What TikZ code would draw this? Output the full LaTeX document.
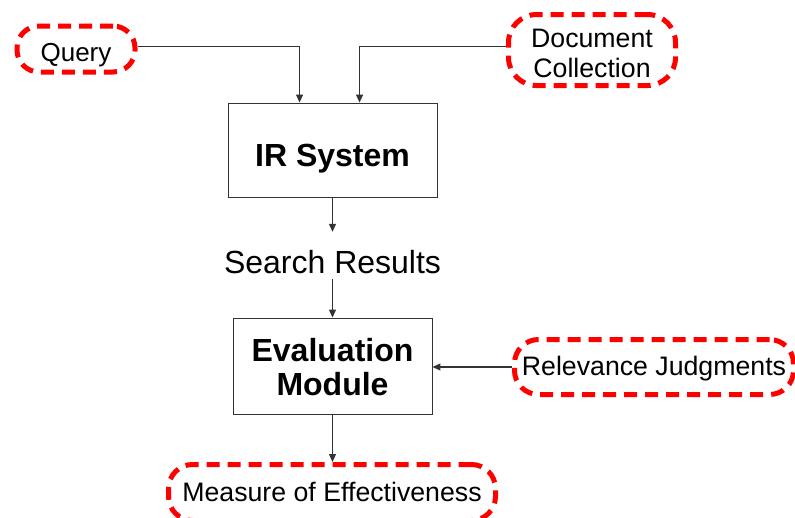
\documentclass[tikz,border=0pt]{standalone}
\usepackage{fontspec}
\setmainfont{Liberation Sans}
\usetikzlibrary{arrows.meta}
\begin{document}
\begin{tikzpicture}[x=1pt,y=1pt,
  ext/.style={draw=red, line width=5pt, dash pattern=on 13pt off 8pt,
    rounded corners=24pt, font=\fontsize{26.7}{30}\selectfont, align=center,
    inner sep=0pt, text depth=0pt},
  proc/.style={draw=black!80, line width=0.9pt, font=\fontsize{32}{33.5}\selectfont\bfseries,
    align=center, inner sep=0pt, text depth=0pt},
  conn/.style={draw=black!80, line width=1.1pt, -{Triangle[length=8pt,width=7pt]}}]
\useasboundingbox (0,0) rectangle (795,-517);

% external inputs and outputs
\node[ext, font=\fontsize{26}{30}\selectfont, rounded corners=22pt,
  minimum width=118pt, minimum height=46pt, text height=24pt] (query) at (76,-49) {Query};
\node[ext, rounded corners=28pt, minimum width=167pt, minimum height=71pt,
  text height=55.4pt] (doc) at (592,-50) {Document\\Collection};
\node[ext, minimum width=279pt, minimum height=55pt, text height=16pt] (rel) at (654,-367) {Relevance Judgments};
\node[ext, minimum width=327pt, minimum height=56pt, text height=18.4pt] (meas) at (332,-492.5) {Measure of Effectiveness};

% processing blocks
\node[proc, minimum width=209pt, minimum height=94pt, text height=32pt] (ir) at (332.5,-150) {IR System};
\node[proc, minimum width=199pt, minimum height=96pt, text height=58.6pt] (eval) at (332.5,-366) {Evaluation\\Module};
\node[font=\fontsize{32}{34}\selectfont, inner sep=0pt, text height=22pt, text depth=0pt] (sr) at (332.5,-262) {Search Results};

% connectors
\draw[conn] ([yshift=2.3pt]query.east) -| ([xshift=72pt]ir.north west);
\draw[conn] ([yshift=3.3pt]doc.west) -| ([xshift=132pt]ir.north west);
\draw[conn] (ir.south) -- ([yshift=19pt]sr.north);
\draw[conn] ([yshift=-6pt]sr.south) -- (eval.north);
\draw[conn] (rel.west) -- (rel.west -| eval.east);
\draw[conn] (eval.south) -- (eval.south |- meas.north);
\end{tikzpicture}
\end{document}
